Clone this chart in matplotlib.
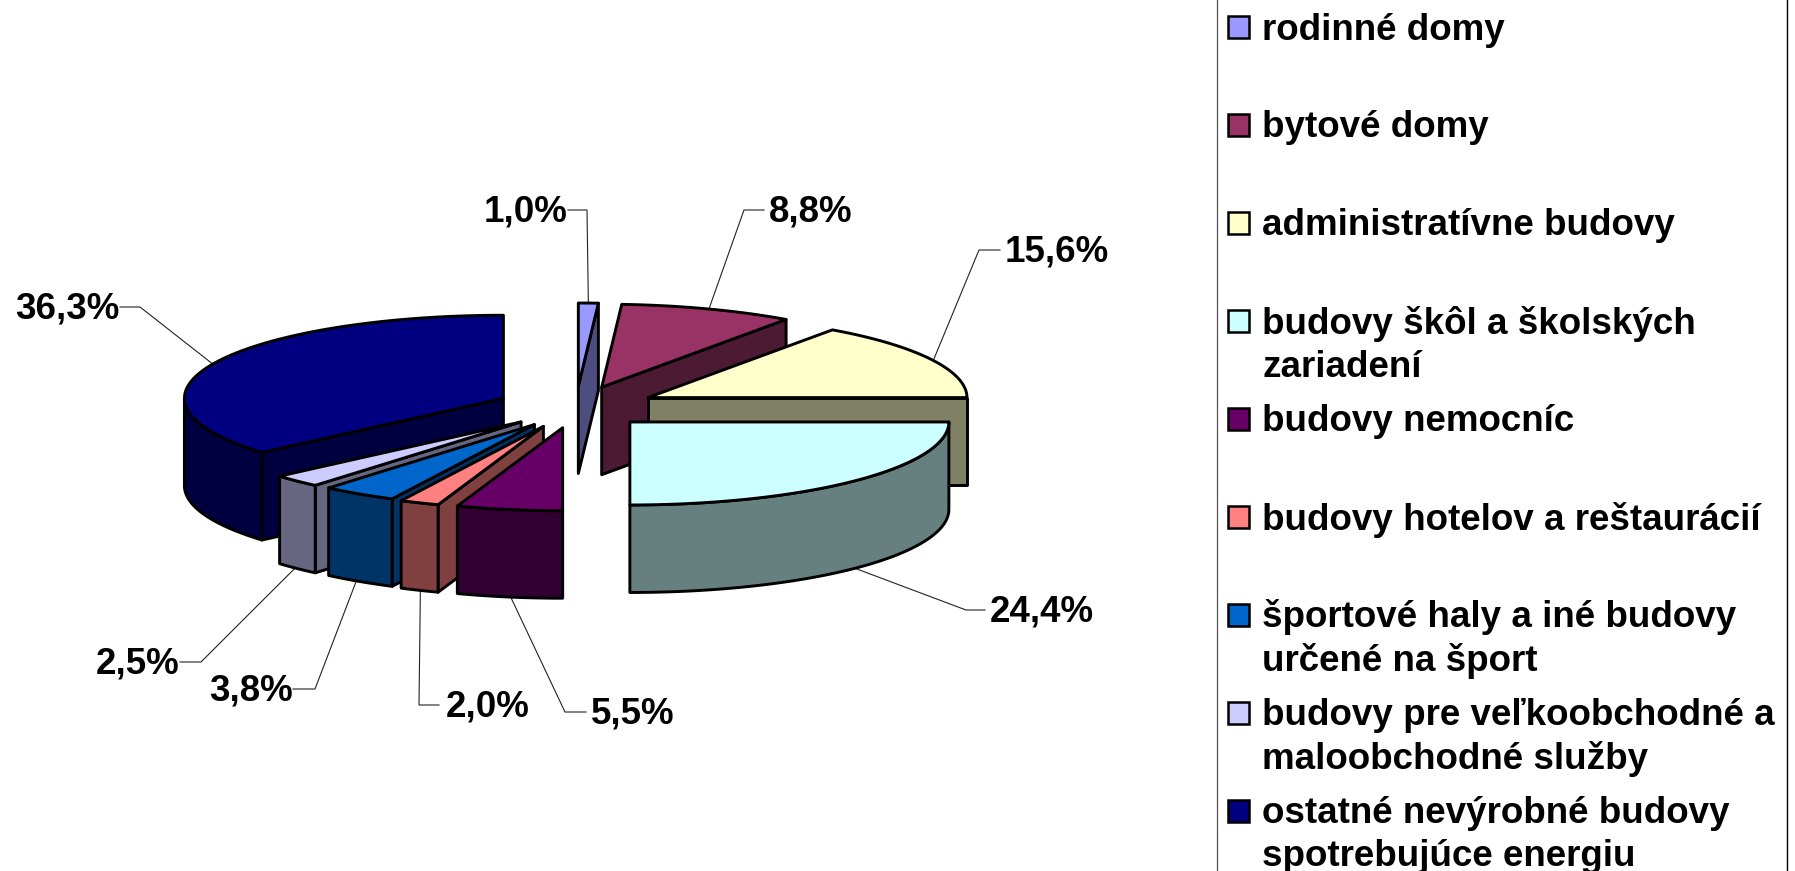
import numpy as np
import matplotlib
matplotlib.use("Agg")
import matplotlib.pyplot as plt
from matplotlib.patches import Polygon, Rectangle

W, H = 1795, 871

categories = [
    "rodinné domy",
    "bytové domy",
    "administratívne budovy",
    "budovy škôl a školských\nzariadení",
    "budovy nemocníc",
    "budovy hotelov a reštaurácií",
    "športové haly a iné budovy\nurčené na šport",
    "budovy pre veľkoobchodné a\nmaloobchodné služby",
    "ostatné nevýrobné budovy\nspotrebujúce energiu",
]
values = [1.0, 8.8, 15.6, 24.4, 5.5, 2.0, 3.8, 2.5, 36.3]
labels = ["1,0%", "8,8%", "15,6%", "24,4%", "5,5%", "2,0%", "3,8%", "2,5%", "36,3%"]
top_colors = ["#9999FF", "#993366", "#FFFFCC", "#CCFFFF", "#660066",
              "#FF8080", "#0066CC", "#CCCCFF", "#000080"]
side_colors = ["#4D4D80", "#4D1A33", "#808066", "#668080", "#330033",
               "#804040", "#003366", "#666680", "#000040"]

# label layout: text left edge, text centre y, leader elbow x
label_x = [484, 769, 1005, 990, 591, 446, 209, 96, 15]
label_y = [212, 212, 252, 612, 714, 707, 691, 664, 309]
line_y = [210, 210, 250, 610, 712, 705, 689, 662, 307]
elbow_x = [587, 744, 979, 966, 565, 419, 315, 201, 140]
leader_start_x = [568, 764, 1000, 985, 586, 439, 293, 180, 120]
# small per-slice horizontal nudge of the exploded slices
nudge_x = [0, -1, 0, -2.5, 0, -1, 3, 2, 1]

# pie geometry (pixels)
CX, CY = 575.8, 407.0
RX, RY = 319.0, 83.0
THICK = 87.5
EXPLODE = 0.253

FONT = "Liberation Sans"

fig = plt.figure(figsize=(W / 100, H / 100), dpi=100, facecolor="white")
ax = fig.add_axes([0, 0, 1, 1])
ax.set_xlim(0, W)
ax.set_ylim(H, 0)
ax.axis("off")

vals = np.array(values)
edges = np.concatenate([[0], np.cumsum(vals) / vals.sum() * 2 * np.pi])
mids = (edges[:-1] + edges[1:]) / 2


def snap(a):
    """Slice boundaries within 2 degrees of an axis are drawn on the axis."""
    q = np.round(a / (np.pi / 2)) * (np.pi / 2)
    return q if abs(a - q) < np.radians(2) else a


def pt(theta, r=1.0):
    return np.sin(theta) * RX * r, -np.cos(theta) * RY * r


EDGE = dict(edgecolor="black", linewidth=2.1, joinstyle="round")
order = np.argsort(-np.cos(mids))
for z, i in enumerate(order):
    a0, a1 = snap(edges[i]), snap(edges[i + 1])
    ox, oy = pt(mids[i], EXPLODE)
    apex = np.array([CX + ox + nudge_x[i], CY + oy])
    ts = np.linspace(a0, a1, 80)
    arc = np.column_stack([apex[0] + np.sin(ts) * RX, apex[1] - np.cos(ts) * RY])
    down = np.array([0, THICK])
    zo = 2 + z
    # radial walls
    if np.sin(a1) > 1e-6:
        p = arc[-1]
        ax.add_patch(Polygon([apex, p, p + down, apex + down], facecolor=side_colors[i], zorder=zo, **EDGE))
    if np.sin(a0) < -1e-6:
        p = arc[0]
        ax.add_patch(Polygon([apex, p, p + down, apex + down], facecolor=side_colors[i], zorder=zo, **EDGE))
    # outer wall (front half only)
    lo, hi = max(a0, np.pi / 2), min(a1, 3 * np.pi / 2)
    if hi > lo:
        tf = np.linspace(lo, hi, 80)
        front = np.column_stack([apex[0] + np.sin(tf) * RX, apex[1] - np.cos(tf) * RY])
        ax.add_patch(Polygon(np.vstack([front, front[::-1] + down]), facecolor=side_colors[i], zorder=zo, **EDGE))
    # top
    ax.add_patch(Polygon(np.vstack([apex, arc]), facecolor=top_colors[i], zorder=zo + 0.5, **EDGE))

# data labels and leader lines
for i, lab in enumerate(labels):
    ax.text(label_x[i], label_y[i], lab, fontsize=26.5, fontweight="bold", family=FONT,
            ha="left", va="center", color="black", zorder=50)
    ox, oy = pt(mids[i], 1 + EXPLODE)
    ax_, ay_ = CX + ox, CY + oy + (THICK if np.cos(mids[i]) < 0 else 0)
    ax.plot([leader_start_x[i], elbow_x[i], ax_], [line_y[i], line_y[i], ay_],
            color="#222222", lw=0.8, zorder=1, solid_joinstyle="miter")

# legend
ax.plot([1217, 1217], [0, H], color="#555555", lw=0.9, zorder=1)
ax.plot([1787, 1787], [0, H], color="black", lw=1.0, zorder=1)
row_h = 97.9
for i, name in enumerate(categories):
    y = 27.5 + row_h * i
    ax.add_patch(Rectangle((1228, y - 11), 21, 22, facecolor=top_colors[i], edgecolor="black", linewidth=1.8, zorder=5))
    for j, line in enumerate(name.split("\n")):
        ax.text(1262, y + 2.5 + j * 43.5, line, fontsize=26.5, fontweight="bold", family=FONT,
                ha="left", va="center", color="black", zorder=5)

fig.savefig("out.png", dpi=100, facecolor="white")
